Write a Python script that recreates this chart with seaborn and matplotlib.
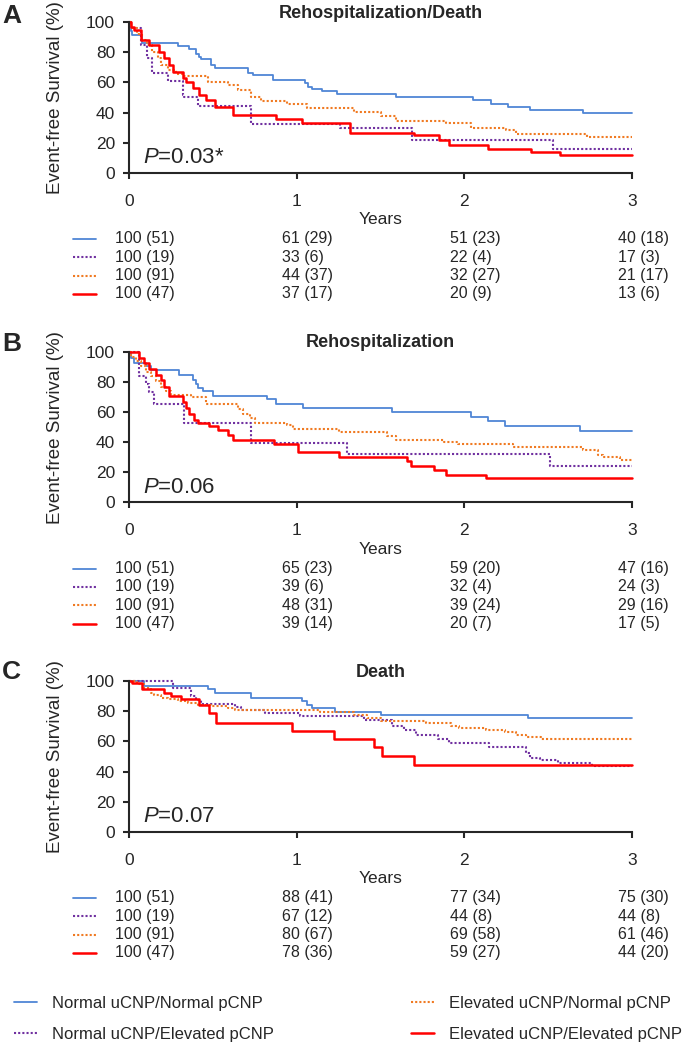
import matplotlib
matplotlib.use("Agg")
import matplotlib.pyplot as plt
import seaborn as sns
import pandas as pd
from matplotlib.lines import Line2D

sns.set_style("ticks")
plt.rcParams["font.family"] = ["Liberation Sans", "DejaVu Sans"]
plt.rcParams["mathtext.fontset"] = "custom"
plt.rcParams["mathtext.rm"] = "Liberation Sans"
plt.rcParams["mathtext.it"] = "Liberation Sans:italic"

groups = ["Normal uCNP/Normal pCNP", "Normal uCNP/Elevated pCNP",
          "Elevated uCNP/Normal pCNP", "Elevated uCNP/Elevated pCNP"]

# (years, event-free survival %) at each step
a_nn = [(0, 100), (0.01, 94), (0.02, 91.5), (0.08, 86.5), (0.29, 84), (0.36, 82.5), (0.40, 79),
        (0.42, 77), (0.43, 75.5), (0.49, 71.5), (0.51, 69.5), (0.71, 66.5), (0.74, 65), (0.86, 61.5),
        (1.05, 59.5), (1.07, 57), (1.09, 55.5), (1.15, 54.5), (1.24, 52.5), (1.59, 50.5), (2.05, 48.5),
        (2.16, 46), (2.26, 43.5), (2.39, 41.5), (2.71, 39.5), (3.0, 39.5)]
a_ne = [(0, 100), (0.01, 96.5), (0.07, 85), (0.11, 76), (0.14, 66.5), (0.23, 61), (0.32, 51.5),
        (0.33, 50), (0.41, 44.5), (0.73, 32.5), (1.26, 30), (1.69, 22), (2.53, 16), (3.0, 16)]
a_en = [(0, 100), (0.01, 96), (0.05, 92.5), (0.08, 88), (0.11, 85), (0.14, 80.5), (0.17, 76),
        (0.19, 71.5), (0.23, 68.5), (0.28, 65.5), (0.33, 64), (0.47, 60.5), (0.59, 58.5), (0.65, 55),
        (0.73, 50.5), (0.79, 47.5), (0.94, 45.5), (1.06, 43), (1.34, 40.5), (1.50, 37.5), (1.59, 34.5),
        (1.89, 33), (2.04, 29.5), (2.25, 28.5), (2.31, 26), (2.73, 24), (3.0, 24)]
a_ee = [(0, 100), (0.01, 97), (0.03, 95), (0.07, 88), (0.12, 85), (0.18, 80.5), (0.21, 76.5),
        (0.24, 71.5), (0.26, 67), (0.32, 63), (0.34, 60.5), (0.38, 56.5), (0.42, 51.5), (0.46, 48.5),
        (0.51, 44), (0.62, 38.5), (0.875, 36), (1.03, 33), (1.32, 26.5), (1.70, 25), (1.85, 21.5),
        (1.91, 18.5), (2.14, 16), (2.40, 14), (2.57, 12), (3.0, 12)]

b_nn = [(0, 100), (0.01, 96), (0.03, 92.5), (0.10, 90.5), (0.13, 88), (0.30, 85), (0.38, 81.5),
        (0.40, 78.5), (0.41, 76), (0.44, 74), (0.50, 71), (0.825, 68.5), (0.875, 65.5), (1.04, 62.5),
        (1.57, 60), (2.04, 57), (2.14, 54), (2.24, 50.5), (2.69, 47.5), (3.0, 47.5)]
b_ne = [(0, 100), (0.06, 84), (0.10, 79), (0.12, 73.5), (0.15, 65.5), (0.33, 52.5), (0.73, 39.5),
        (1.30, 32), (2.51, 24), (3.0, 24)]
b_en = [(0, 100), (0.01, 97), (0.04, 94), (0.07, 90.5), (0.10, 87), (0.13, 84), (0.16, 80.5),
        (0.19, 77), (0.22, 74), (0.25, 71.5), (0.37, 70), (0.46, 65.5), (0.65, 62), (0.68, 58.5),
        (0.72, 56), (0.75, 53), (0.94, 51.5), (0.98, 49), (1.25, 46.5), (1.54, 44), (1.59, 41.5),
        (1.88, 40), (1.96, 39), (2.29, 37), (2.71, 35), (2.80, 31.5), (2.83, 30), (2.93, 28), (3.0, 28)]
b_ee = [(0, 100), (0.06, 96), (0.09, 92.5), (0.12, 88.5), (0.16, 85), (0.19, 81.5), (0.21, 77),
        (0.24, 70.5), (0.32, 67), (0.34, 62.5), (0.36, 58.5), (0.39, 55), (0.41, 53), (0.48, 50.5),
        (0.53, 48), (0.59, 45), (0.62, 41.5), (0.865, 38.5), (1.01, 33.5), (1.25, 30), (1.66, 27.5),
        (1.68, 24.5), (1.82, 21.5), (1.89, 18.5), (2.13, 16), (3.0, 16)]

c_nn = [(0, 100), (0.09, 97), (0.47, 95), (0.51, 92.5), (0.73, 89), (1.03, 87), (1.06, 84.5),
        (1.09, 82.5), (1.23, 79.5), (1.50, 77.5), (2.38, 75.5), (3.0, 75.5)]
c_ne = [(0, 100), (0.26, 95.5), (0.37, 90), (0.40, 87.5), (0.43, 85), (0.63, 83), (0.67, 81),
        (0.81, 79), (1.02, 77), (1.40, 74.5), (1.57, 70), (1.64, 67.5), (1.71, 64), (1.84, 61.5),
        (1.91, 59), (2.15, 56.5), (2.37, 52.5), (2.39, 49), (2.45, 47.5), (2.56, 45.5), (2.76, 43.5),
        (3.0, 43.5)]
c_en = [(0, 100), (0.05, 98), (0.09, 95.5), (0.13, 92.5), (0.15, 91), (0.19, 89), (0.23, 88),
        (0.29, 87), (0.35, 85.5), (0.41, 84.5), (0.49, 83.5), (0.59, 82), (0.63, 81), (1.14, 79.5),
        (1.34, 77.5), (1.42, 75.5), (1.50, 73.5), (1.77, 72), (1.92, 70), (1.97, 69), (2.13, 67.5),
        (2.24, 66), (2.31, 64), (2.37, 63), (2.46, 61.5), (3.0, 61.5)]
c_ee = [(0, 100), (0.02, 99), (0.08, 95), (0.21, 92.5), (0.25, 90), (0.31, 88), (0.42, 84),
        (0.48, 79), (0.52, 72.5), (0.97, 67), (1.22, 61.5), (1.46, 56), (1.51, 50.5), (1.70, 44.5),
        (3.0, 44.5)]

# number-at-risk tables: % (n) at 0, 1, 2, 3 years
a_pct = [[100, 61, 51, 40], [100, 33, 22, 17], [100, 44, 32, 21], [100, 37, 20, 13]]
a_n = [[51, 29, 23, 18], [19, 6, 4, 3], [91, 37, 27, 17], [47, 17, 9, 6]]
b_pct = [[100, 65, 59, 47], [100, 39, 32, 24], [100, 48, 39, 29], [100, 39, 20, 17]]
b_n = [[51, 23, 20, 16], [19, 6, 4, 3], [91, 31, 24, 16], [47, 14, 7, 5]]
c_pct = [[100, 88, 77, 75], [100, 67, 44, 44], [100, 80, 69, 61], [100, 78, 59, 44]]
c_n = [[51, 41, 34, 30], [19, 12, 8, 8], [91, 67, 58, 46], [47, 36, 27, 20]]

colors = ["#4F86D6", "#7030A0", "#F07A22", "#FF0000"]
styles = ["-", (0, (1, 1)), (0, (1, 1)), "-"]
widths = [1.3, 1.5, 1.5, 1.8]

panels = [
    ("A", "Rehospitalization/Death", "0.03*", [a_nn, a_ne, a_en, a_ee], a_pct, a_n, 22.3, 23),
    ("B", "Rehospitalization", "0.06", [b_nn, b_ne, b_en, b_ee], b_pct, b_n, 352.0, 351),
    ("C", "Death", "0.07", [c_nn, c_ne, c_en, c_ee], c_pct, c_n, 681.3, 679),
]

W, H = 682, 1050
fig = plt.figure(figsize=(W / 100, H / 100), dpi=100)

for letter, title, pval, curves, pct, n, top_px, letter_px in panels:
    ax = fig.add_axes([129 / W, 1 - (top_px + 150.4) / H, 503 / W, 150.4 / H])
    for curve, c, ls, lw in zip(curves, colors, styles, widths):
        df = pd.DataFrame(curve, columns=["Years", "Survival"])
        sns.lineplot(data=df, x="Years", y="Survival", drawstyle="steps-post",
                     estimator=None, sort=False, color=c, linestyle=ls,
                     linewidth=lw, clip_on=False, ax=ax)
    ax.set_xlim(0, 3)
    ax.set_ylim(0, 100)
    ax.set_xticks([0, 1, 2, 3])
    ax.set_yticks([0, 20, 40, 60, 80, 100])
    sns.despine(ax=ax)
    for s in ["left", "bottom"]:
        ax.spines[s].set_linewidth(1.5)
    ax.tick_params(axis="both", width=1.5, length=4, direction="out", labelsize=12.5)
    ax.tick_params(axis="x", pad=11)
    ax.tick_params(axis="y", pad=6)
    ax.set_xlabel("Years", fontsize=12.5)
    ax.xaxis.set_label_coords(0.5, -0.26)
    ax.set_ylabel("Event-free Survival (%)", fontsize=13.5)
    ax.yaxis.set_label_coords(-0.13, 0.5)
    ax.set_title(title, fontsize=13, fontweight="bold", y=1.03, pad=0)
    ax.text(0.028, 0.065, r"$\mathit{P}$=" + pval, transform=ax.transAxes,
            fontsize=16, ha="left", va="baseline")
    fig.text(2 / W, 1 - letter_px / H, letter, fontsize=19, fontweight="bold",
             ha="left", va="baseline")

    xt = ax.get_xaxis_transform()
    for i in range(4):
        y = -0.44 - 0.122 * i
        ax.plot([-0.334, -0.197], [y, y], transform=xt, clip_on=False,
                color=colors[i], linestyle=styles[i], linewidth=widths[i])
        for j in range(4):
            ax.text(j - 0.085, y, f"{pct[i][j]} ({n[i][j]})", transform=xt,
                    ha="left", va="center", fontsize=11.5)

handles = [Line2D([], [], color=c, linestyle=ls, linewidth=lw)
           for c, ls, lw in zip(colors, styles, widths)]
fig.legend(handles, groups, loc="upper left", bbox_to_anchor=(14 / W, 1 - 996 / H),
           ncol=2, frameon=False, fontsize=12, handlelength=1.4, handletextpad=0.9,
           columnspacing=8.2, labelspacing=0.95, borderpad=0, borderaxespad=0)

fig.savefig("out.png", dpi=100)
